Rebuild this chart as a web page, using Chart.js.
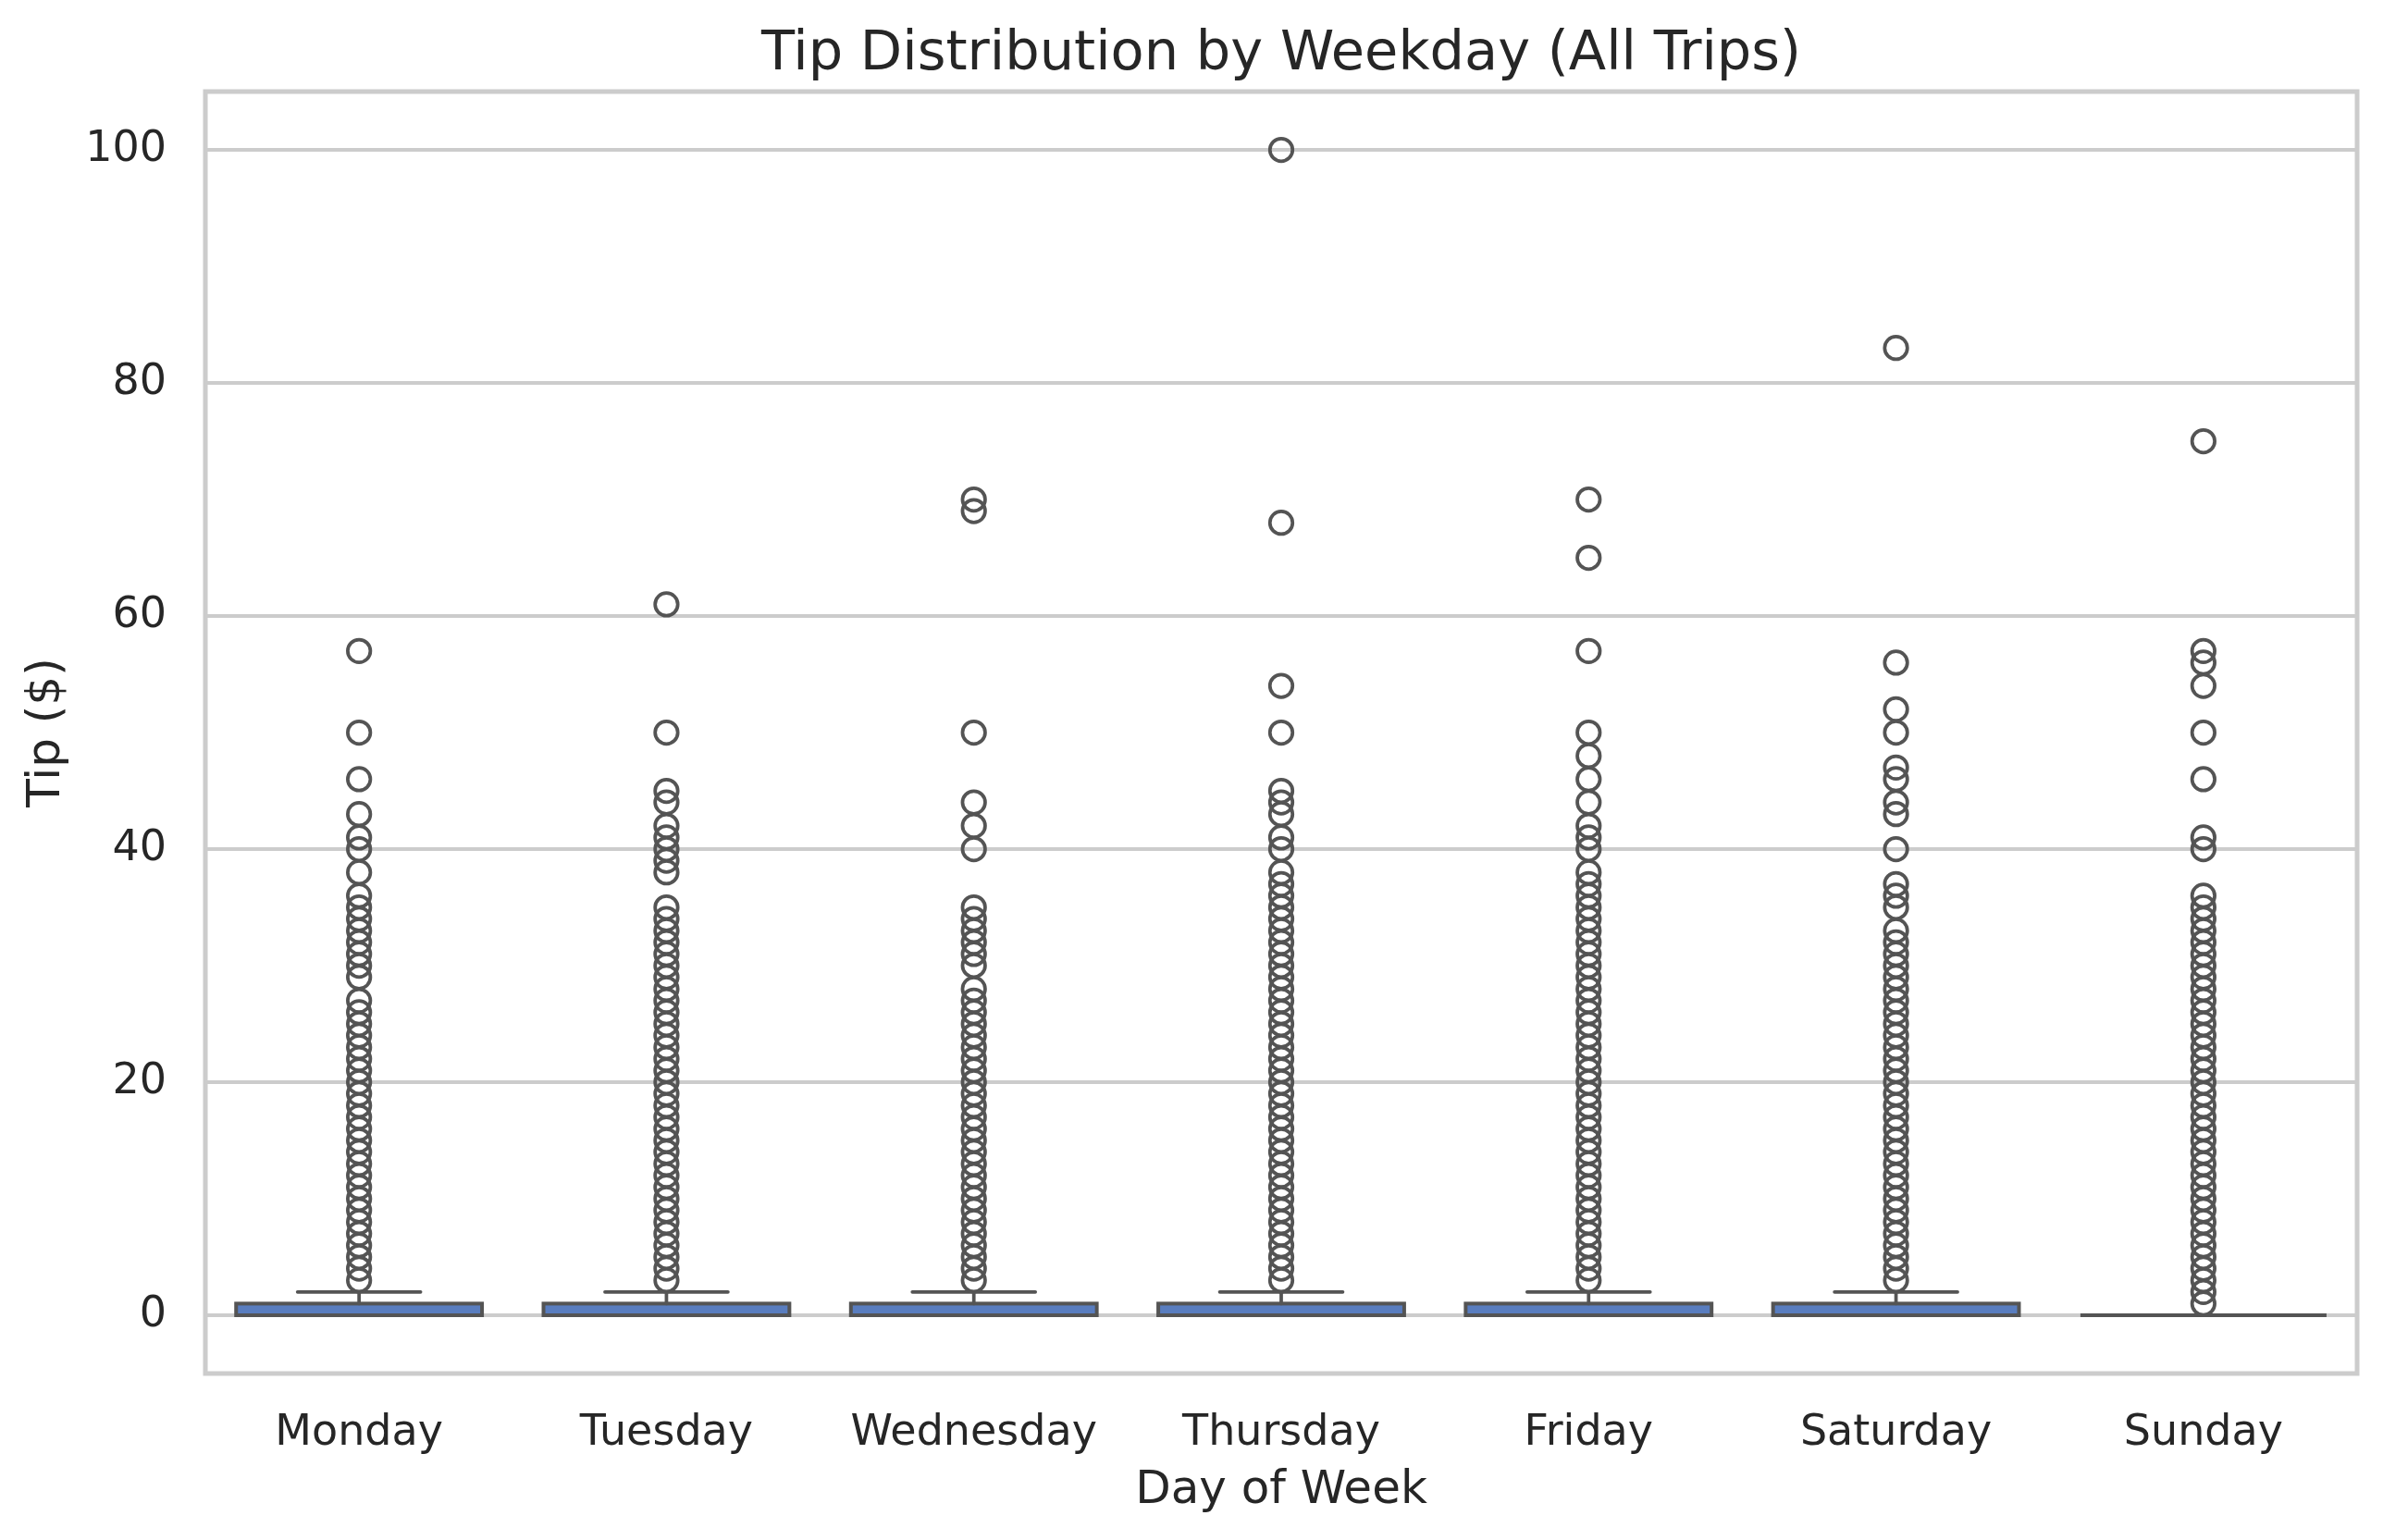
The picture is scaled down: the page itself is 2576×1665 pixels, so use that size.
<!DOCTYPE html>
<html>
<head>
<meta charset="UTF-8"/>
<title>Tip Distribution by Weekday</title>
<script src="https://cdn.jsdelivr.net/npm/chart.js@4.4.1/dist/chart.umd.min.js"></script>
<style>
    html, body { margin: 0; padding: 0; background: #ffffff; }
    #chartBox { width: 2576px; height: 1665px; }
</style>
</head>
<body>
<div id="chartBox">
    <canvas id="tipChart" width="2576" height="1665"></canvas>
</div>
<script>
    // categories
    var days = ["Monday", "Tuesday", "Wednesday", "Thursday", "Friday", "Saturday", "Sunday"];

    // box stats per day
    var q1Vals      = [0, 0, 0, 0, 0, 0, 0];
    var medianVals  = [0, 0, 0, 0, 0, 0, 0];
    var q3Vals      = [1, 1, 1, 1, 1, 1, 0];
    var whiskerLow  = [0, 0, 0, 0, 0, 0, 0];
    var whiskerHigh = [2, 2, 2, 2, 2, 2, 0];

    // outliers per day
    var mondayOut = [57, 50, 46, 43, 41, 40, 38, 36, 35, 34, 33, 32, 31, 30, 29,
        27, 26, 25, 24, 23, 22, 21, 20, 19, 18, 17, 16, 15, 14, 13, 12, 11, 10, 9, 8, 7, 6, 5, 4, 3];
    var tuesdayOut = [61, 50, 45, 44, 42, 41, 40, 39, 38, 35, 34, 33, 32, 31, 30, 29, 28,
        27, 26, 25, 24, 23, 22, 21, 20, 19, 18, 17, 16, 15, 14, 13, 12, 11, 10, 9, 8, 7, 6, 5, 4, 3];
    var wednesdayOut = [70, 69, 50, 44, 42, 40, 35, 34, 33, 32, 31, 30, 28,
        27, 26, 25, 24, 23, 22, 21, 20, 19, 18, 17, 16, 15, 14, 13, 12, 11, 10, 9, 8, 7, 6, 5, 4, 3];
    var thursdayOut = [100, 68, 54, 50, 45, 44, 43, 41, 40, 38, 37, 36, 35, 34, 33, 32, 31, 30, 29, 28,
        27, 26, 25, 24, 23, 22, 21, 20, 19, 18, 17, 16, 15, 14, 13, 12, 11, 10, 9, 8, 7, 6, 5, 4, 3];
    var fridayOut = [70, 65, 57, 50, 48, 46, 44, 42, 41, 40, 38, 37, 36, 35, 34, 33, 32, 31, 30, 29, 28,
        27, 26, 25, 24, 23, 22, 21, 20, 19, 18, 17, 16, 15, 14, 13, 12, 11, 10, 9, 8, 7, 6, 5, 4, 3];
    var saturdayOut = [83, 56, 52, 50, 47, 46, 44, 43, 40, 37, 36, 35, 33, 32, 31, 30, 29, 28,
        27, 26, 25, 24, 23, 22, 21, 20, 19, 18, 17, 16, 15, 14, 13, 12, 11, 10, 9, 8, 7, 6, 5, 4, 3];
    var sundayOut = [75, 57, 56, 54, 50, 46, 41, 40, 36, 35, 34, 33, 32, 31, 30, 29, 28,
        27, 26, 25, 24, 23, 22, 21, 20, 19, 18, 17, 16, 15, 14, 13, 12, 11, 10, 9, 8, 7, 6, 5, 4, 3, 2, 1];

    var outliersByDay = [mondayOut, tuesdayOut, wednesdayOut, thursdayOut, fridayOut, saturdayOut, sundayOut];

    // y axis ticks
    var yTicks = [0, 20, 40, 60, 80, 100];

    var boxFill = "#597dbf";
    var lineGray = "#545454";
    var gridGray = "#cccccc";
    var textColor = "#262626";
    var fontFam = "'DejaVu Sans', sans-serif";

    var outlierPoints = [];
    days.forEach(function (d, i) {
        outliersByDay[i].forEach(function (v) {
            outlierPoints.push({x: d, y: v});
        });
    });

    // box outlines, whiskers, caps, medians and the axes frame
    var boxPlotExtras = {
        id: 'boxPlotExtras',
        beforeDatasetsDraw: function (chart) {
            var a = chart.chartArea, ctx = chart.ctx;
            ctx.save();
            ctx.strokeStyle = gridGray;
            ctx.lineWidth = 5;
            ctx.strokeRect(a.left, a.top, a.right - a.left, a.bottom - a.top);
            ctx.restore();
        },
        afterDatasetDraw: function (chart, args) {
            if (args.index !== 0) return;
            var ctx = chart.ctx, ys = chart.scales.y;
            var meta = chart.getDatasetMeta(0);
            ctx.save();
            ctx.strokeStyle = lineGray;
            meta.data.forEach(function (bar, i) {
                var p = bar.getProps(['x', 'width'], true);
                var cx = p.x, half = p.width / 2;
                var yq1 = ys.getPixelForValue(q1Vals[i]);
                var yq3 = ys.getPixelForValue(q3Vals[i]);
                var yLo = ys.getPixelForValue(whiskerLow[i]);
                var yHi = ys.getPixelForValue(whiskerHigh[i]);
                var yMed = ys.getPixelForValue(medianVals[i]);

                ctx.lineWidth = 3.75;
                ctx.lineCap = 'round';
                ctx.beginPath();
                ctx.moveTo(cx, yq3);
                ctx.lineTo(cx, yHi);
                ctx.moveTo(cx - half / 2, yHi);
                ctx.lineTo(cx + half / 2, yHi);
                ctx.moveTo(cx, yq1);
                ctx.lineTo(cx, yLo);
                ctx.moveTo(cx - half / 2, yLo);
                ctx.lineTo(cx + half / 2, yLo);
                ctx.stroke();

                // box edge centred on the quartiles
                ctx.lineWidth = 4;
                ctx.lineJoin = 'miter';
                ctx.strokeRect(cx - half, yq3, half * 2, yq1 - yq3);

                // median
                ctx.lineCap = 'butt';
                ctx.beginPath();
                ctx.moveTo(cx - half, yMed);
                ctx.lineTo(cx + half, yMed);
                ctx.stroke();
            });
            ctx.restore();
        }
    };

    var ctx = document.getElementById("tipChart").getContext('2d');
    var tipChart = new Chart(ctx, {
        type: 'bar',
        data: {
            labels: days,
            datasets: [{
                type: 'bar',
                label: 'box',
                order: 2,
                data: days.map(function (d, i) { return [q1Vals[i], q3Vals[i]]; }),
                backgroundColor: boxFill,
                borderWidth: 0,
                inflateAmount: 0,
                barPercentage: 0.8,
                categoryPercentage: 1.0
            }, {
                type: 'scatter',
                label: 'outliers',
                order: 1,
                data: outlierPoints,
                pointStyle: 'circle',
                pointRadius: 12.25,
                pointHoverRadius: 12.25,
                pointBorderWidth: 3.75,
                pointBackgroundColor: 'rgba(0,0,0,0)',
                pointBorderColor: lineGray
            }]
        },
        options: {
            responsive: false,
            maintainAspectRatio: false,
            devicePixelRatio: 1,
            animation: false,
            layout: { padding: { left: 0, right: 28, top: 0, bottom: 0 } },
            plugins: {
                legend: { display: false },
                tooltip: { enabled: false },
                title: {
                    display: true,
                    fullSize: false,
                    text: 'Tip Distribution by Weekday (All Trips)',
                    color: textColor,
                    font: { family: fontFam, size: 59, weight: 'normal', lineHeight: 1 },
                    padding: { top: 30, bottom: 10 }
                }
            },
            scales: {
                x: {
                    type: 'category',
                    offset: true,
                    afterFit: function (s) { s.height = 180; },
                    grid: { display: false, drawTicks: false },
                    border: { display: false },
                    ticks: {
                        color: textColor,
                        padding: 42,
                        maxRotation: 0,
                        font: { family: fontFam, size: 46, lineHeight: 1 }
                    },
                    title: {
                        display: true,
                        text: 'Day of Week',
                        color: textColor,
                        font: { family: fontFam, size: 50, lineHeight: 1 },
                        padding: { top: 0, bottom: 28 }
                    }
                },
                y: {
                    type: 'linear',
                    min: -5,
                    max: 105,
                    afterFit: function (s) { s.width = 222; },
                    afterBuildTicks: function (s) {
                        s.ticks = yTicks.map(function (v) { return {value: v}; });
                    },
                    grid: { color: gridGray, lineWidth: 4, drawTicks: false },
                    border: { display: false },
                    ticks: {
                        color: textColor,
                        padding: 42,
                        font: { family: fontFam, size: 46, lineHeight: 1 }
                    },
                    title: {
                        display: true,
                        text: 'Tip ($)',
                        color: textColor,
                        font: { family: fontFam, size: 50, lineHeight: 1 },
                        padding: { top: 26, bottom: 0 }
                    }
                }
            }
        },
        plugins: [boxPlotExtras]
    });
</script>
</body>
</html>
